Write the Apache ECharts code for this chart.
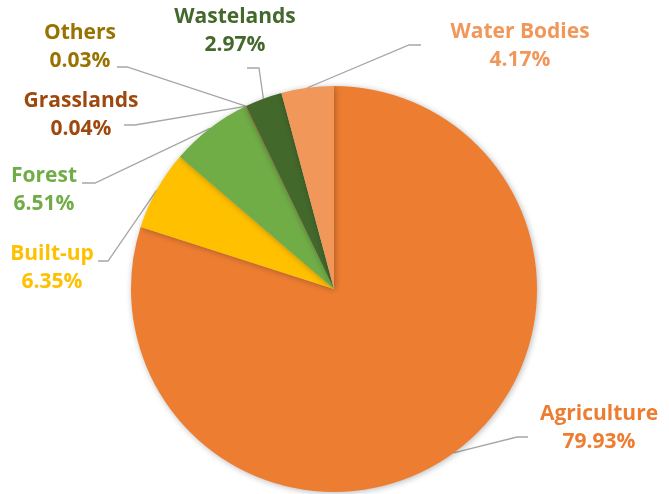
<!DOCTYPE html>
<html>
<head>
<meta charset="utf-8">
<title>Land use share</title>
<script src="https://cdn.jsdelivr.net/npm/echarts@6/dist/echarts.min.js"></script>
<style>
  html, body { margin: 0; padding: 0; background: #ffffff; }
  #chart { width: 669px; height: 494px; }
</style>
</head>
<body>
<div id="chart"></div>
<script>
// Land-use categories and their shares (%), clockwise from 12 o'clock
const categories = ['Agriculture', 'Built-up', 'Forest', 'Grasslands', 'Others', 'Wastelands', 'Water Bodies'];
const shares = [79.93, 6.35, 6.51, 0.04, 0.03, 2.97, 4.17];

// Slice fills and label colours
const sliceColors = ['#ED7D31', '#FFC000', '#70AD47', '#9E480E', '#997300', '#43682B', '#F1975A'];
const labelColors = ['#ED7D31', '#FFC000', '#70AD47', '#9E480E', '#997300', '#43682B', '#F1975A'];

// Pie geometry
const CX = 334, CY = 289, R = 203;

// Label placement: text block centre, end of the leader line, length of its horizontal tail
const labelPlacement = [
  { tx: 599, ty: 428, ex: 528, ey: 437, tail: -11 }, // Agriculture
  { tx: 52,  ty: 268, ex: 98,  ey: 261, tail: 10 },  // Built-up
  { tx: 44,  ty: 190, ex: 82,  ey: 183, tail: 13 },  // Forest
  { tx: 81,  ty: 115, ex: 124, ey: 125, tail: 11 },  // Grasslands
  { tx: 80,  ty: 47,  ex: 117, ey: 67,  tail: 10 },  // Others
  { tx: 235, ty: 31,  ex: 247, ey: 68,  tail: 12 },  // Wastelands
  { tx: 520, ty: 46,  ex: 421, ey: 45,  tail: -12 }  // Water Bodies
];

// Fallback anchor on the rim at a slice's mid-angle
function rimPoint(i) {
  const total = shares.reduce((a, b) => a + b, 0);
  let before = 0;
  for (let k = 0; k < i; k++) before += shares[k];
  const a = (before + shares[i] / 2) / total * Math.PI * 2;
  return [CX + R * Math.sin(a), CY - R * Math.cos(a)];
}

const chart = echarts.init(document.getElementById('chart'), null, { renderer: 'canvas' });

chart.setOption({
  animation: false,
  backgroundColor: '#ffffff',
  series: [{
    type: 'pie',
    center: [CX, CY],
    radius: [0, R],
    startAngle: 90,
    clockwise: true,
    avoidLabelOverlap: false,
    minAngle: 0,
    itemStyle: {
      borderWidth: 0,
      shadowBlur: 6,
      shadowColor: 'rgba(0,0,0,0.28)',
      shadowOffsetX: 1,
      shadowOffsetY: 1
    },
    label: {
      show: true,
      position: 'outside',
      formatter: p => p.name + '\n' + p.value.toFixed(2) + '%',
      fontFamily: '"Open Sans", "Noto Sans", sans-serif',
      fontWeight: 'bold',
      fontSize: 21,
      lineHeight: 28,
      align: 'center'
    },
    labelLine: {
      show: true,
      length: 10,
      length2: 10,
      lineStyle: { color: '#A6A6A6', width: 1.3 }
    },
    labelLayout: function (params) {
      const i = params.dataIndex;
      const spot = labelPlacement[i];
      const anchor = (params.labelLinePoints && params.labelLinePoints[0]) || rimPoint(i);
      return {
        x: spot.tx,
        y: spot.ty,
        align: 'center',
        verticalAlign: 'middle',
        labelLinePoints: [
          anchor,
          [spot.ex + spot.tail, spot.ey],
          [spot.ex, spot.ey]
        ]
      };
    },
    emphasis: { disabled: true },
    data: categories.map((name, i) => ({
      name: name,
      value: shares[i],
      itemStyle: { color: sliceColors[i] },
      label: { color: labelColors[i] }
    }))
  }]
});
</script>
</body>
</html>
